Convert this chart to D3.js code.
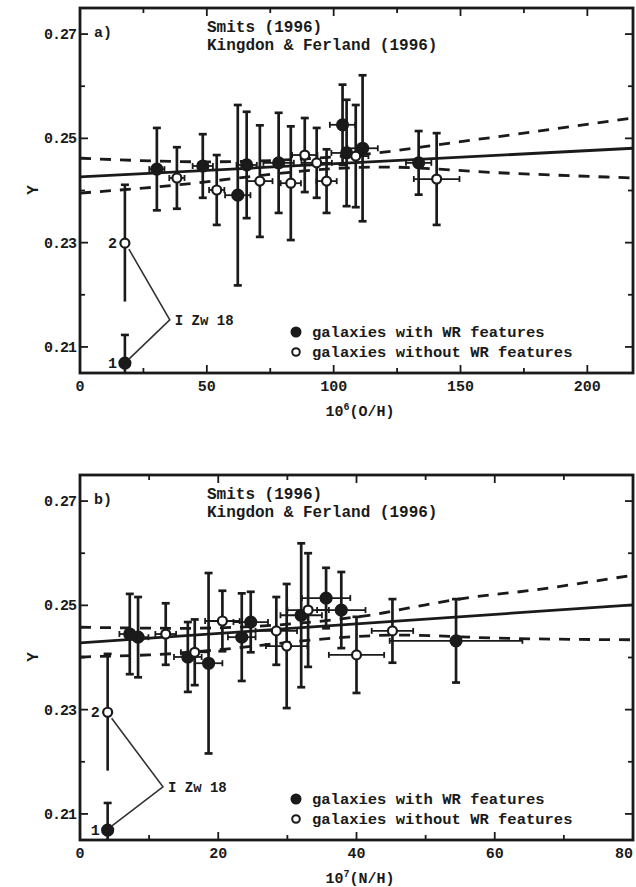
<!DOCTYPE html>
<html>
<head>
<meta charset="utf-8">
<script src="https://cdn.jsdelivr.net/npm/d3@7"></script>
<style>
  body { margin: 0; background: #fff; }
  text { font-family: "Liberation Mono", "DejaVu Sans Mono", monospace; font-weight: bold; fill: #1a1a1a; }
</style>
</head>
<body>
<div id="chart"></div>
<script>
const width = 636
const height = 887
const ink = '#1a1a1a'

// panel a: Y vs 10^6 (O/H)
const a_x    = [30.3, 38.2, 48.4, 53.9, 62.2, 65.7, 70.9, 78.3, 83.1, 88.6, 93.3, 97.2, 103.5, 105.1, 108.7, 111.4, 133.5, 140.6]
const a_y    = [0.2441, 0.2424, 0.2447, 0.2401, 0.2391, 0.2449, 0.2418, 0.2453, 0.2414, 0.2468, 0.2453, 0.2418, 0.2526, 0.2472, 0.2466, 0.2481, 0.2453, 0.2422]
const a_yerr = [0.0079, 0.0059, 0.0061, 0.0067, 0.0173, 0.0102, 0.0107, 0.0096, 0.0109, 0.0071, 0.0067, 0.0061, 0.0077, 0.0102, 0.0098, 0.0140, 0.0061, 0.0088]
const a_xerr = [3, 3, 4, 3, 5, 4, 5, 6, 4, 5, 6, 4, 5, 6, 5, 6, 5, 9]
const a_wr   = [1, 0, 1, 0, 1, 1, 0, 1, 0, 0, 0, 0, 1, 1, 0, 1, 1, 0]

// I Zw 18, the two components
const a_izw_x    = [17.7, 17.7]
const a_izw_y    = [0.2069, 0.2299]
const a_izw_yerr = [0.0054, 0.0112]
const a_izw_lab  = ['1', '2']

const a_fit_x   = [0, 218]
const a_fit_y   = [0.2426, 0.2481]
const a_upper_x = [0, 50, 117, 146, 178, 218]
const a_upper_y = [0.2462, 0.2455, 0.2472, 0.2491, 0.2512, 0.2539]
const a_lower_x = [0, 26, 119, 165, 218]
const a_lower_y = [0.2395, 0.2405, 0.2445, 0.2434, 0.2424]

// panel b: Y vs 10^7 (N/H)
const b_x    = [7.2, 8.4, 12.4, 15.6, 16.6, 18.6, 20.6, 23.4, 24.7, 28.4, 29.9, 32.0, 33.0, 35.6, 37.8, 40.0, 45.2, 54.4]
const b_y    = [0.2445, 0.2439, 0.2445, 0.2401, 0.2410, 0.2389, 0.2470, 0.2439, 0.2468, 0.2451, 0.2422, 0.2481, 0.2491, 0.2514, 0.2491, 0.2405, 0.2451, 0.2432]
const b_yerr = [0.0077, 0.0077, 0.0059, 0.0067, 0.0063, 0.0173, 0.0058, 0.0084, 0.0058, 0.0065, 0.0119, 0.0138, 0.0109, 0.0058, 0.0073, 0.0073, 0.0061, 0.0080]
const b_xerr = [1.5, 1.5, 1.5, 2, 2, 2, 2.5, 2, 2.5, 3, 3, 3, 3, 3.5, 3.5, 4, 3, 9.6]
const b_wr   = [1, 1, 0, 1, 0, 1, 0, 1, 1, 0, 0, 1, 0, 1, 1, 0, 0, 1]

const b_izw_x    = [4.0, 4.0]
const b_izw_y    = [0.2069, 0.2295]
const b_izw_yerr = [0.0052, 0.0112]
const b_izw_lab  = ['1', '2']

const b_fit_x   = [0, 80]
const b_fit_y   = [0.2428, 0.2501]
const b_upper_x = [0, 15, 41.8, 47.6, 55.8, 65.4, 80]
const b_upper_y = [0.2458, 0.2456, 0.2481, 0.2495, 0.2514, 0.2529, 0.2558]
const b_lower_x = [0, 10, 46.6, 60.6, 80]
const b_lower_y = [0.2401, 0.2405, 0.2443, 0.2437, 0.2434]

const y_ticks = [0.21, 0.23, 0.25, 0.27]
const y_minor = [0.22, 0.24, 0.26]
const a_x_ticks = [0, 50, 100, 150, 200]
const a_x_minor = [25, 75, 125, 175]
const b_x_ticks = [0, 20, 40, 60, 80]
const b_x_minor = [10, 30, 50, 70]

const legend_labels = ['galaxies with WR features', 'galaxies without WR features']
const title_lines = ['Smits (1996)', 'Kingdon & Ferland (1996)']

const svg = d3.select('#chart')
    .append('svg')
    .attr('width', width)
    .attr('height', height)

draw_panel({
    id: 'a', top: 8, tag: 'a)',
    x_max: 218, x_ticks: a_x_ticks, x_minor: a_x_minor, x_label: ['10', '6', '(O/H)'],
    xs: a_x, ys: a_y, yerr: a_yerr, xerr: a_xerr, wr: a_wr,
    izw_x: a_izw_x, izw_y: a_izw_y, izw_yerr: a_izw_yerr, izw_lab: a_izw_lab,
    izw_vertex: [35.4, 0.2152],
    fit: [a_fit_x, a_fit_y], upper: [a_upper_x, a_upper_y], lower: [a_lower_x, a_lower_y]
})

draw_panel({
    id: 'b', top: 475, tag: 'b)',
    x_max: 80, x_ticks: b_x_ticks, x_minor: b_x_minor, x_label: ['10', '7', '(N/H)'],
    xs: b_x, ys: b_y, yerr: b_yerr, xerr: b_xerr, wr: b_wr,
    izw_x: b_izw_x, izw_y: b_izw_y, izw_yerr: b_izw_yerr, izw_lab: b_izw_lab,
    izw_vertex: [12.0, 0.2152],
    fit: [b_fit_x, b_fit_y], upper: [b_upper_x, b_upper_y], lower: [b_lower_x, b_lower_y]
})

function draw_panel(p) {
    const left = 80
    const right = 633
    const top = p.top
    const bottom = p.top + 365

    const x = d3.scaleLinear().domain([0, p.x_max]).range([left, right])
    const y = d3.scaleLinear().domain([0.205, 0.275]).range([bottom, top])

    const g = svg.append('g')

    g.append('clipPath')
        .attr('id', 'clip_' + p.id)
        .append('rect')
        .attr('x', left).attr('y', top)
        .attr('width', right - left).attr('height', bottom - top)

    const plot = g.append('g').attr('clip-path', `url(#clip_${p.id})`)

    // fit and its confidence band
    const line = d3.line().x(d => x(d[0])).y(d => y(d[1])).curve(d3.curveMonotoneX)
    const pairs = (xs, ys) => xs.map((v, i) => [v, ys[i]])
    plot.append('path')
        .attr('d', line(pairs(p.fit[0], p.fit[1])))
        .attr('stroke', ink).attr('stroke-width', 2.8).attr('fill', 'none')
    for (const band of [p.upper, p.lower]) {
        plot.append('path')
            .attr('d', line(pairs(band[0], band[1])))
            .attr('stroke', ink).attr('stroke-width', 2.8).attr('fill', 'none')
            .attr('stroke-dasharray', '11,9')
    }

    // error bars
    const cap = 4
    p.xs.forEach((v, i) => {
        const cx = x(v)
        const y0 = y(p.ys[i] - p.yerr[i])
        const y1 = y(p.ys[i] + p.yerr[i])
        const cy = y(p.ys[i])
        const x0 = x(v - p.xerr[i])
        const x1 = x(v + p.xerr[i])
        const eb = plot.append('g').attr('stroke', ink).attr('stroke-width', 2.7)
        eb.append('line').attr('x1', cx).attr('x2', cx).attr('y1', y0).attr('y2', y1)
        eb.append('line').attr('x1', cx - cap).attr('x2', cx + cap).attr('y1', y0).attr('y2', y0)
        eb.append('line').attr('x1', cx - cap).attr('x2', cx + cap).attr('y1', y1).attr('y2', y1)
        eb.append('line').attr('x1', x0).attr('x2', x1).attr('y1', cy).attr('y2', cy).attr('stroke-width', 1.8)
        eb.append('line').attr('x1', x0).attr('x2', x0).attr('y1', cy - 3).attr('y2', cy + 3).attr('stroke-width', 1.8)
        eb.append('line').attr('x1', x1).attr('x2', x1).attr('y1', cy - 3).attr('y2', cy + 3).attr('stroke-width', 1.8)
    })

    plot.selectAll('circle.pt')
        .data(p.xs.map((v, i) => ({ x: v, y: p.ys[i], wr: p.wr[i] })))
        .enter()
        .append('circle')
        .attr('class', 'pt')
        .attr('cx', d => x(d.x))
        .attr('cy', d => y(d.y))
        .attr('r', d => d.wr ? 5.5 : 4.5)
        .attr('fill', d => d.wr ? ink : '#fff')
        .attr('stroke', ink)
        .attr('stroke-width', 2.2)

    // I Zw 18
    p.izw_x.forEach((v, i) => {
        const cx = x(v)
        const y0 = y(Math.max(p.izw_y[i] - p.izw_yerr[i], 0.205))
        const y1 = y(p.izw_y[i] + p.izw_yerr[i])
        plot.append('line').attr('x1', cx).attr('x2', cx).attr('y1', y0).attr('y2', y1)
            .attr('stroke', ink).attr('stroke-width', 2.6)
        plot.append('line').attr('x1', cx - cap).attr('x2', cx + cap).attr('y1', y1).attr('y2', y1)
            .attr('stroke', ink).attr('stroke-width', 2.6)
        plot.append('circle').attr('cx', cx).attr('cy', y(p.izw_y[i]))
            .attr('r', i === 0 ? 5.5 : 4.5)
            .attr('fill', i === 0 ? ink : '#fff')
            .attr('stroke', ink).attr('stroke-width', 2.2)
        g.append('text').attr('x', cx - 8).attr('y', y(p.izw_y[i]) + 5)
            .attr('text-anchor', 'end').attr('font-size', 15)
            .text(p.izw_lab[i])
    })
    const vx = x(p.izw_vertex[0])
    const vy = y(p.izw_vertex[1])
    g.append('path')
        .attr('d', d3.line()([
            [x(p.izw_x[1]) + 4, y(p.izw_y[1]) + 6],
            [vx, vy],
            [x(p.izw_x[0]) + 4, y(p.izw_y[0]) - 4]
        ]))
        .attr('stroke', '#333').attr('stroke-width', 1.6).attr('fill', 'none')
    g.append('text').attr('x', vx + 5).attr('y', vy + 5).attr('font-size', 14).text('I Zw 18')

    // frame
    g.append('rect')
        .attr('x', left).attr('y', top)
        .attr('width', right - left).attr('height', bottom - top)
        .attr('fill', 'none').attr('stroke', ink).attr('stroke-width', 2.8)

    // ticks, pointing inwards on all four sides
    const ticks = g.append('g').attr('stroke', ink).attr('stroke-width', 1.8)
    const tick = (x1, y1, x2, y2) => ticks.append('line').attr('x1', x1).attr('y1', y1).attr('x2', x2).attr('y2', y2)
    for (const t of p.x_ticks) { tick(x(t), bottom, x(t), bottom - 8); tick(x(t), top, x(t), top + 8) }
    for (const t of p.x_minor) { tick(x(t), bottom, x(t), bottom - 5); tick(x(t), top, x(t), top + 5) }
    for (const t of y_ticks) { tick(left, y(t), left + 8, y(t)); tick(right, y(t), right - 8, y(t)) }
    for (const t of y_minor) { tick(left, y(t), left + 5, y(t)); tick(right, y(t), right - 5, y(t)) }

    g.selectAll('text.ylab')
        .data(y_ticks)
        .enter()
        .append('text')
        .attr('class', 'ylab')
        .attr('x', left - 4)
        .attr('y', d => y(d) + 5)
        .attr('text-anchor', 'end')
        .attr('font-size', 15)
        .attr('letter-spacing', -1)
        .text(d => d3.format('.2f')(d))

    // the last label sits on the page edge, so keep it inside
    g.selectAll('text.xlab')
        .data(p.x_ticks)
        .enter()
        .append('text')
        .attr('class', 'xlab')
        .attr('x', d => Math.min(x(d), width - 1))
        .attr('y', bottom + 18)
        .attr('text-anchor', d => x(d) + 10 > width ? 'end' : 'middle')
        .attr('font-size', 15)
        .text(d => d)

    const xl = g.append('text')
        .attr('x', 360).attr('y', bottom + 43)
        .attr('text-anchor', 'middle')
        .attr('font-size', 15)
    xl.append('tspan').text(p.x_label[0])
    xl.append('tspan').attr('dy', -6).attr('font-size', 10).text(p.x_label[1])
    xl.append('tspan').attr('dy', 6).text(p.x_label[2])

    g.append('text')
        .attr('transform', `translate(38, ${top + 182}) rotate(-90)`)
        .attr('text-anchor', 'middle')
        .attr('font-size', 16)
        .text('Y')

    // panel tag and titles
    g.append('text').attr('x', left + 14).attr('y', top + 29).attr('font-size', 15).text(p.tag)
    title_lines.forEach((t, i) => {
        g.append('text').attr('x', 207).attr('y', top + 24 + i * 18).attr('font-size', 16).text(t)
    })

    // legend
    legend_labels.forEach((t, i) => {
        const ly = bottom - 41 + i * 20
        g.append('circle').attr('cx', 296).attr('cy', ly)
            .attr('r', i === 0 ? 4.5 : 3.8)
            .attr('fill', i === 0 ? ink : '#fff')
            .attr('stroke', ink).attr('stroke-width', 2)
        g.append('text').attr('x', 312).attr('y', ly + 5).attr('font-size', 15.5).text(t)
    })
}
</script>
</body>
</html>
